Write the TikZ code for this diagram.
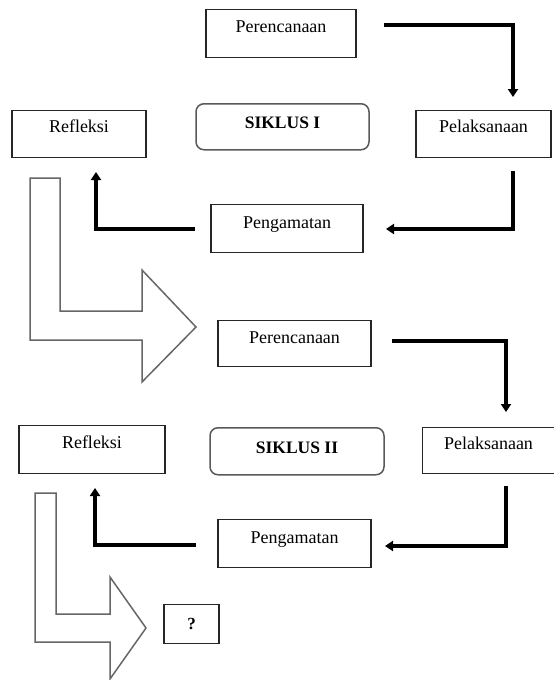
\documentclass[tikz,border=0pt]{standalone}
\usepackage{fontspec}
\setmainfont{Liberation Serif}
\usetikzlibrary{arrows.meta}
\begin{document}
\begin{tikzpicture}[x=1pt,y=-1pt,
  box/.style={draw=black!85, line width=1.4pt, inner xsep=0pt, inner ysep=0pt, anchor=north, font=\fontsize{18}{20}\selectfont},
  siklus/.style={box, draw=black!65, rounded corners=8pt, line width=1.5pt, font=\fontsize{17.5}{20}\selectfont\bfseries},
  conn/.style={line width=3.2pt, black, -{Triangle[length=8pt,width=10pt]}},
  blockarrow/.style={draw=black!60, line width=1.5pt, fill=white, line join=miter}
]
\useasboundingbox (0,0) rectangle (554,680);

% ---------- Cycle I ----------
\node[box, minimum width=150pt, text height=23pt, text depth=25pt] (per1) at (281,9) {Perencanaan};
\node[box, minimum width=135pt, text height=22pt, text depth=25pt] (pel1) at (483.5,110) {Pelaksanaan};
\node[box, minimum width=134pt, text height=22pt, text depth=25pt] (ref1) at (79,110) {Refleksi};
\node[siklus, minimum width=173pt, text height=25pt, text depth=21pt] (sik1) at (282.5,103) {SIKLUS I};
\node[box, minimum width=152pt, text height=24pt, text depth=24pt] (pen1) at (287,204) {Pengamatan};

\coordinate (a1s) at (384,25);
\coordinate (a1e) at (513,97);
\coordinate (a2s) at (513,171);
\coordinate (a2e) at (386,229);
\coordinate (a3s) at (195,229);
\coordinate (a3e) at (96,172);
\draw[conn] (a1s) -| (a1e);
\draw[conn] (a2s) |- (a2e);
\draw[conn] (a3s) -| (a3e);

% block arrow 1
\draw[blockarrow] (30,178) -- (60,178) -- (60,311) -- (142,311) -- (142,270) -- (196,327)
  -- (142,382) -- (142,340) -- (30,340) -- cycle;

% ---------- Cycle II ----------
\node[box, minimum width=153pt, text height=23pt, text depth=23pt] (per2) at (294.5,320) {Perencanaan};
\node[box, minimum width=132pt, text height=22pt, text depth=24pt] (pel2) at (488.5,427) {Pelaksanaan};
\node[box, minimum width=146pt, text height=23pt, text depth=25pt] (ref2) at (92,425) {Refleksi};
\node[siklus, minimum width=174pt, text height=26pt, text depth=21pt] (sik2) at (297,427) {SIKLUS II};
\node[box, minimum width=153pt, text height=24pt, text depth=24pt] (pen2) at (294.5,519) {Pengamatan};
\node[box, minimum width=55pt, text height=25pt, text depth=14pt, font=\fontsize{17}{20}\selectfont\bfseries] (q) at (191.5,604) {?};

\coordinate (a4s) at (392,341);
\coordinate (a4e) at (506,412);
\coordinate (a5s) at (506,486);
\coordinate (a5e) at (385,546);
\coordinate (a6s) at (196,545);
\coordinate (a6e) at (95,488);
\draw[conn] (a4s) -| (a4e);
\draw[conn] (a5s) |- (a5e);
\draw[conn] (a6s) -| (a6e);

% block arrow 2
\draw[blockarrow] (35,493) -- (56,493) -- (56,614) -- (110,614) -- (110,577) -- (146,628)
  -- (110,679) -- (110,642) -- (35,642) -- cycle;
\end{tikzpicture}
\end{document}
